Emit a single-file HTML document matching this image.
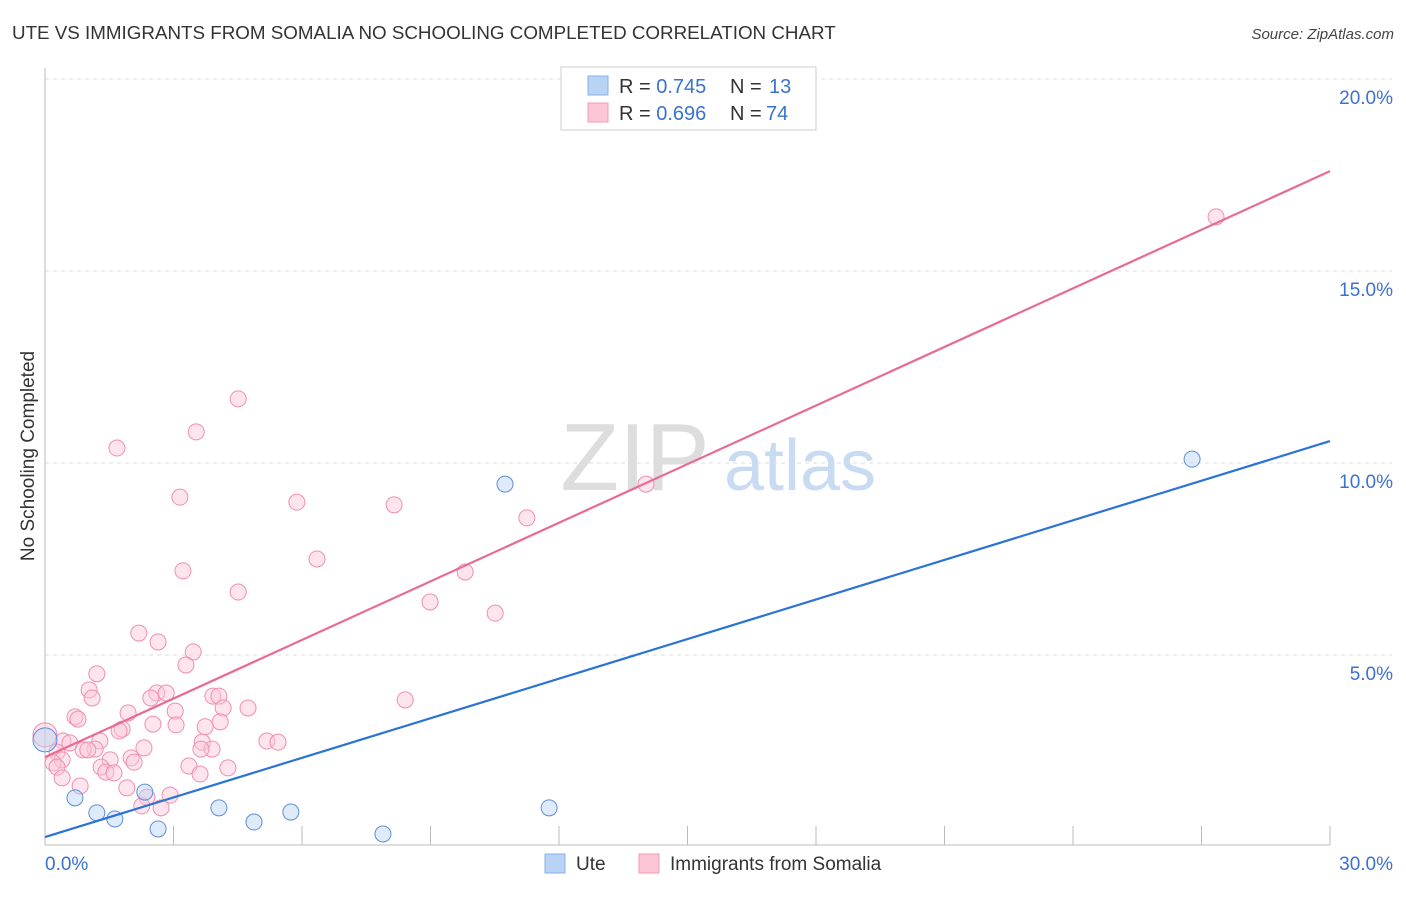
<!DOCTYPE html>
<html><head><meta charset="utf-8"><style>
body{margin:0;background:#fff;font-family:"Liberation Sans",sans-serif;}
svg text{font-family:"Liberation Sans",sans-serif;}
</style></head><body>
<svg id="chart" width="1406" height="892" xmlns="http://www.w3.org/2000/svg">
<text x="12" y="39" font-size="18.8" fill="#333">UTE VS IMMIGRANTS FROM SOMALIA NO SCHOOLING COMPLETED CORRELATION CHART</text>
<text x="1394" y="39" font-size="15" fill="#444" text-anchor="end" font-style="italic">Source: ZipAtlas.com</text>
<text transform="translate(34,456) rotate(-90)" font-size="19" fill="#333" text-anchor="middle">No Schooling Completed</text>
<g>
<text x="635" y="490" font-size="96" fill="#ddd" text-anchor="middle" font-family="Liberation Serif">ZIP</text>
<text x="800" y="490" font-size="72" fill="#c9dbf3" text-anchor="middle">atlas</text>
</g>
<g id="grid"></g><g id="axes"></g><g id="marks"></g>
<g>
<rect x="561" y="67" width="255" height="63" fill="#fff" stroke="#ccc"/>
<rect x="588" y="76" width="20" height="19" fill="#b9d3f5" stroke="#8ab0e6"/>
<rect x="588" y="103" width="20" height="19" fill="#fcc6d6" stroke="#f199b5"/>
<text x="619" y="93" font-size="20" fill="#333">R = <tspan fill="#3a72d0">0.745</tspan></text>
<text x="730" y="93" font-size="20" fill="#333">N = <tspan fill="#3a72d0" x="769">13</tspan></text>
<text x="619" y="120" font-size="20" fill="#333">R = <tspan fill="#3a72d0">0.696</tspan></text>
<text x="730" y="120" font-size="20" fill="#333">N = <tspan fill="#3a72d0" x="766">74</tspan></text>
</g>
<g>
<rect x="545" y="854" width="20" height="19" fill="#b9d3f5" stroke="#8ab0e6"/>
<text x="576" y="870" font-size="19" fill="#333">Ute</text>
<rect x="639" y="854" width="20" height="19" fill="#fcc6d6" stroke="#f199b5"/>
<text x="670" y="870" font-size="19" fill="#333">Immigrants from Somalia</text>
</g>
</svg>
<script>
const yTicks=[5,10,15,20];
const yTickLabels=["5.0%","10.0%","15.0%","20.0%"];
const xTickLabels=["0.0%","30.0%"];
const uteX=[0.70,1.21,1.63,2.33,2.64,4.06,4.88,5.74,7.89,10.74,11.77,26.78,0];
const uteY=[1.28,0.89,0.73,1.43,0.47,1.02,0.65,0.91,0.34,9.45,1.02,10.10,2.79];
const somX=[4.51,3.53,1.68,3.15,5.88,8.15,11.25,14.03,27.34,6.35,3.22,9.81,4.51,8.99,10.51,2.19,2.64,3.46,3.29,1.21,1.03,1.10,2.61,2.83,2.47,3.92,4.06,4.16,4.74,8.41,3.04,1.94,0.70,0.77,2.52,3.06,4.09,3.74,1.80,1.73,0.42,0.58,1.28,1.17,0.89,1.00,2.31,3.67,3.90,5.18,5.44,3.64,0.28,0.40,1.52,2.01,0.19,0.28,1.31,2.08,3.36,1.42,1.61,3.62,4.27,0.40,0.82,1.91,2.38,2.92,2.26,2.71,0];
const somY=[11.67,10.81,10.39,9.11,8.98,8.91,8.57,9.45,16.41,7.50,7.19,7.16,6.64,6.38,6.09,5.57,5.34,5.08,4.74,4.51,4.09,3.88,4.01,4.01,3.88,3.93,3.93,3.62,3.62,3.83,3.54,3.49,3.39,3.33,3.20,3.18,3.26,3.13,3.07,3.02,2.76,2.71,2.76,2.55,2.53,2.53,2.58,2.73,2.55,2.76,2.73,2.55,2.47,2.27,2.27,2.32,2.19,2.08,2.08,2.21,2.11,1.95,1.93,1.90,2.06,1.80,1.59,1.54,1.30,1.35,1.07,1.02,2.92];
const uteLine=[0.26,10.57];
const somLine=[2.34,17.6];
const X=v=>45+v*(1285/30), Y=v=>847-v*38.4;
const NS="http://www.w3.org/2000/svg";
function mk(t,a,p){const e=document.createElementNS(NS,t);for(const k in a)e.setAttribute(k,a[k]);p.appendChild(e);return e;}
const grid=document.getElementById('grid'),axes=document.getElementById('axes'),marks=document.getElementById('marks');
yTicks.forEach((t,i)=>{
 const l=mk('line',{x1:45,x2:1392,y1:Y(t),y2:Y(t),stroke:'#ddd','stroke-dasharray':'4,4'},grid);
 
 
 const tx=mk('text',{x:1393,y:Y(t)+25,'font-size':19,fill:'#3a72d0','text-anchor':'end'},axes);
 tx.textContent=yTickLabels[i];
 
 
});
const ax=mk('line',{x1:45,x2:1330,y1:845,y2:845,stroke:'#bbb'},axes);


const ay=mk('line',{x1:45,x2:45,y1:68,y2:845,stroke:'#bbb'},axes);


for(let i=0;i<=10;i++){const tk=mk('line',{x1:X(i*3),x2:X(i*3),y1:826,y2:845,stroke:'#bbb'},axes);
 
 }
[[0,'start',45],[1,'end',1393]].forEach(([i,a,x])=>{const t=mk('text',{x:x,y:870,'font-size':19,fill:'#3a72d0','text-anchor':a},axes);t.textContent=xTickLabels[i];
 
 });
function pts(xs,ys,fill,stroke,name){xs.forEach((x,i)=>{const big=(x===0);
 const c=mk('circle',{cx:X(x),cy:Y(ys[i]),r:big?12:8,fill:fill,'fill-opacity':0.45,stroke:stroke,'stroke-width':1},marks);
 
 });}
pts(somX,somY,'#fcc6d6','#ef8fad','somalia-point');
pts(uteX,uteY,'#b9d3f5','#5d8fd8','ute-point');
const l1=mk('line',{x1:X(0),y1:Y(somLine[0]),x2:X(30),y2:Y(somLine[1]),stroke:'#e86b96','stroke-width':2.2},marks);


const l2=mk('line',{x1:X(0),y1:Y(uteLine[0]),x2:X(30),y2:Y(uteLine[1]),stroke:'#2b73d6','stroke-width':2.2},marks);


</script>
</body></html>
